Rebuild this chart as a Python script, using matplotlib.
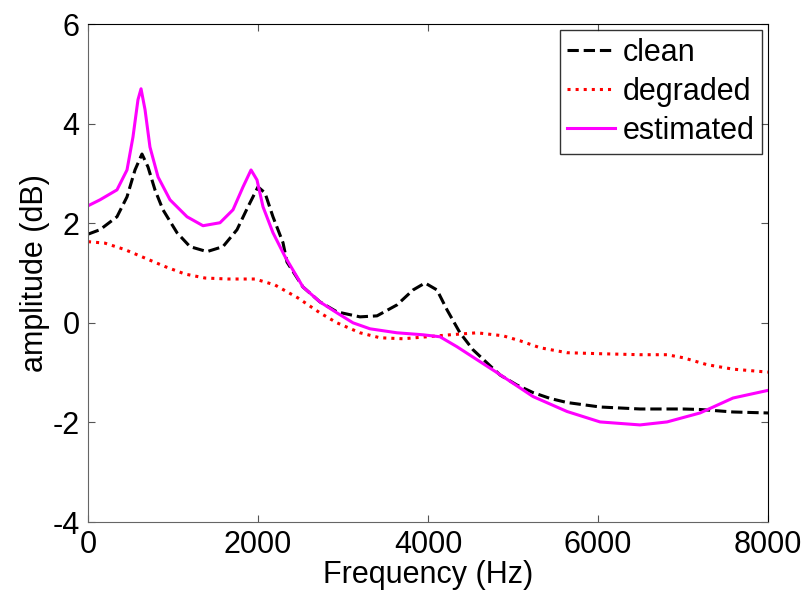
import matplotlib.pyplot as plt

plt.rcParams['font.family'] = ['Liberation Sans', 'DejaVu Sans']
plt.rcParams['axes.unicode_minus'] = False

# values
clean_f = [0, 141, 341, 459, 553, 635, 706, 788, 882, 1047, 1200, 1400, 1588, 1753, 1882,
           2000, 2082, 2176, 2294, 2341, 2529, 2729, 2929, 3200, 3400, 3635, 3824, 3965,
           4106, 4224, 4376, 4529, 4729, 4850, 5047, 5235, 5440, 5635, 6024, 6494, 7000,
           7200, 7588, 8000]
clean_db = [1.78, 1.87, 2.13, 2.53, 3.07, 3.39, 3.13, 2.67, 2.27, 1.81, 1.53, 1.43, 1.53, 1.87, 2.33,
            2.73, 2.61, 2.13, 1.61, 1.22, 0.72, 0.42, 0.22, 0.12, 0.14, 0.36, 0.66, 0.80,
            0.66, 0.26, -0.20, -0.54, -0.86, -1.05, -1.25, -1.40, -1.52, -1.60, -1.69, -1.73, -1.73,
            -1.74, -1.79, -1.81]

degraded_f = [0, 200, 435, 671, 906, 1141, 1376, 1647, 1965, 2200, 2470, 2729, 2929, 3200,
              3435, 3706, 3988, 4259, 4576, 4882, 5082, 5318, 5635, 6024, 6494, 6812, 7000,
              7282, 7588, 8000]
degraded_db = [1.63, 1.60, 1.47, 1.30, 1.13, 0.98, 0.90, 0.88, 0.88, 0.76, 0.50, 0.20, 0.0, -0.20,
               -0.30, -0.32, -0.28, -0.24, -0.20, -0.26, -0.36, -0.50, -0.60, -0.62, -0.64, -0.64, -0.70,
               -0.84, -0.93, -0.99]

estimated_f = [0, 141, 341, 459, 529, 588, 624, 671, 729, 824, 965, 1165, 1353, 1553, 1706,
               1824, 1918, 1988, 2059, 2176, 2318, 2529, 2729, 2929, 3118, 3318, 3635, 3941,
               4141, 4341, 4576, 4812, 5059, 5235, 5635, 6024, 6494, 6812, 7200, 7588, 7990]
estimated_db = [2.35, 2.47, 2.67, 3.07, 3.73, 4.48, 4.70, 4.28, 3.53, 2.93, 2.47, 2.13, 1.95, 2.01, 2.27,
                2.73, 3.07, 2.87, 2.33, 1.81, 1.33, 0.72, 0.42, 0.20, 0.0, -0.12, -0.20, -0.24,
                -0.28, -0.48, -0.74, -1.00, -1.28, -1.48, -1.78, -1.99, -2.05, -1.99, -1.81, -1.51, -1.36]

fig = plt.figure(figsize=(8.11, 6.01), dpi=100)
ax = fig.add_axes([0.1085, 0.1314, 0.8385, 0.8286])

ax.plot(clean_f, clean_db, color='black', linestyle='--', linewidth=2.2, label='clean')
ax.plot(degraded_f, degraded_db, color='red', linestyle=':', linewidth=2.2, label='degraded')
ax.plot(estimated_f, estimated_db, color='#ff00ff', linestyle='-', linewidth=2.2, label='estimated')

ax.set_xlim(0, 8000)
ax.set_ylim(-4, 6)
ax.set_xticks([0, 2000, 4000, 6000, 8000])
ax.set_yticks([-4, -2, 0, 2, 4, 6])
ax.tick_params(direction='in', length=5, top=True, right=True, labelsize=22,
               color='#555555', pad=6)
for side in ['left', 'bottom']:
    ax.spines[side].set_color('#666666')
ax.set_xlabel('Frequency (Hz)', fontsize=22, labelpad=0)
ax.set_ylabel('amplitude (dB)', fontsize=22, labelpad=2)

leg = ax.legend(loc='upper right', fontsize=22, frameon=True, fancybox=False,
                edgecolor='black', handlelength=1.55, handletextpad=0.25,
                borderaxespad=0.2, labelspacing=0.3, borderpad=0.25)
leg.get_frame().set_linewidth(1)

plt.savefig('out.png', dpi=100)
